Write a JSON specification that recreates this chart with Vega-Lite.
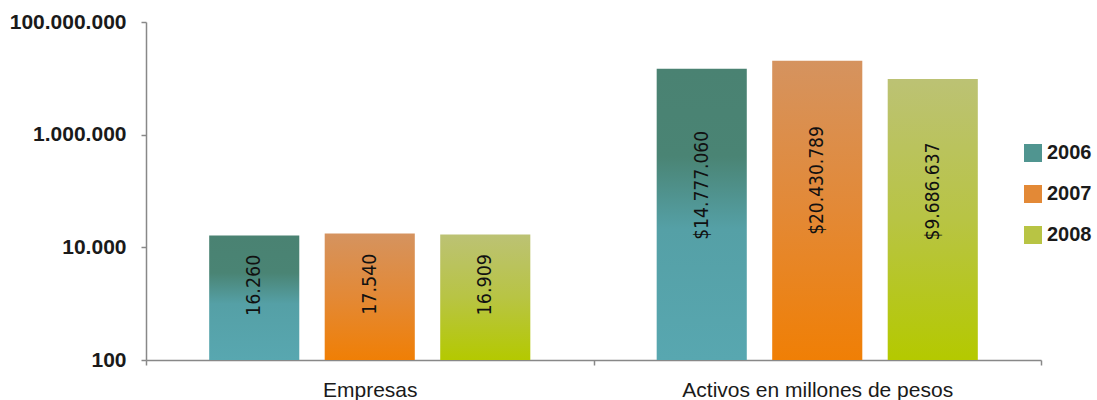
{
  "$schema": "https://vega.github.io/schema/vega-lite/v6.json",
  "width": 895,
  "height": 338,
  "autosize": {"type": "none"},
  "padding": {"left": 146, "top": 22, "right": 56, "bottom": 40},
  "background": "white",
  "config": {
    "view": {"stroke": null},
    "font": "Liberation Sans",
    "locale": {"number": {"decimal": ",", "thousands": ".", "grouping": [3], "currency": ["$", ""]}}
  },
  "data": {
    "values": [
      {"cat": "Empresas", "year": "2006", "value": 16260},
      {"cat": "Empresas", "year": "2007", "value": 17540},
      {"cat": "Empresas", "year": "2008", "value": 16909},
      {"cat": "Activos en millones de pesos", "year": "2006", "value": 14777060},
      {"cat": "Activos en millones de pesos", "year": "2007", "value": 20430789},
      {"cat": "Activos en millones de pesos", "year": "2008", "value": 9686637}
    ]
  },
  "encoding": {
    "x": {
      "field": "cat", "type": "nominal", "sort": null,
      "scale": {"paddingInner": 0, "paddingOuter": 0},
      "axis": {
        "title": null, "labelAngle": 0, "tickBand": "extent", "labelLimit": 500, "labelDx": -6,
        "domainColor": "#888888", "domainWidth": 1.5, "tickColor": "#888888", "tickWidth": 1.5, "tickSize": 5,
        "labelFontSize": 21, "labelColor": "#1a1a1a", "labelPadding": 14, "labelFont": "Liberation Sans"
      }
    },
    "xOffset": {"field": "year", "type": "nominal", "scale": {"domain": ["2006", "2007", "2008"], "paddingInner": 0.22, "paddingOuter": 0.547}},
    "y": {
      "field": "value", "type": "quantitative",
      "scale": {"type": "log", "domain": [100, 100000000], "nice": false},
      "axis": {
        "title": null, "grid": false, "values": [100, 10000, 1000000, 100000000], "format": ",d",
        "domainColor": "#888888", "domainWidth": 1.5, "tickColor": "#888888", "tickWidth": 1.5, "tickSize": 5,
        "labelFontSize": 21, "labelFontWeight": "bold", "labelColor": "#1a1a1a", "labelPadding": 15
      }
    }
  },
  "layer": [
    {
      "transform": [{"filter": "datum.value < 0"}],
      "mark": {"type": "bar"},
      "encoding": {
        "color": {
          "field": "year", "type": "nominal",
          "scale": {"domain": ["2006", "2007", "2008"], "range": ["#509590", "#e38936", "#b8c444"]},
          "legend": {
            "title": null, "orient": "none", "legendX": 877, "legendY": 121,
            "symbolType": "square", "symbolSize": 324, "symbolStrokeWidth": 0, "symbolOpacity": 1,
            "labelFontSize": 20, "labelFontWeight": "bold", "labelColor": "#1a1a1a", "labelOffset": 4,
            "rowPadding": 21
          }
        }
      }
    },
    {
      "transform": [{"filter": "datum.year == '2006'"}],
      "mark": {"type": "bar", "fill": {"gradient": "linear", "x1": 0, "y1": 0, "x2": 0, "y2": 1, "stops": [
        {"offset": 0, "color": "#4a8272"}, {"offset": 0.3, "color": "#4a8474"},
        {"offset": 0.55, "color": "#55a0a6"}, {"offset": 1, "color": "#58a7b0"}]}},
      "encoding": {"y2": {"datum": 100}}
    },
    {
      "transform": [{"filter": "datum.year == '2007'"}],
      "mark": {"type": "bar", "fill": {"gradient": "linear", "x1": 0, "y1": 0, "x2": 0, "y2": 1, "stops": [
        {"offset": 0, "color": "#d5935f"}, {"offset": 0.5, "color": "#e38936"}, {"offset": 1, "color": "#f07f05"}]}},
      "encoding": {"y2": {"datum": 100}}
    },
    {
      "transform": [{"filter": "datum.year == '2008'"}],
      "mark": {"type": "bar", "fill": {"gradient": "linear", "x1": 0, "y1": 0, "x2": 0, "y2": 1, "stops": [
        {"offset": 0, "color": "#bcc274"}, {"offset": 0.5, "color": "#b8c444"}, {"offset": 1, "color": "#b4c900"}]}},
      "encoding": {"y2": {"datum": 100}}
    },
    {
      "transform": [
        {"filter": "datum.cat == 'Empresas'"},
        {"calculate": "100 * pow(datum.value / 100, 0.6)", "as": "labelPos"}
      ],
      "mark": {"type": "text", "angle": 270, "align": "center", "baseline": "middle", "fontSize": 19.5, "font": "DejaVu Sans Condensed", "color": "#111111"},
      "encoding": {
        "y": {"field": "labelPos", "type": "quantitative"},
        "text": {"field": "value", "type": "quantitative", "format": ",d"}
      }
    },
    {
      "transform": [
        {"filter": "datum.cat != 'Empresas'"},
        {"calculate": "100 * pow(datum.value / 100, 0.6)", "as": "labelPos"}
      ],
      "mark": {"type": "text", "angle": 270, "align": "center", "baseline": "middle", "fontSize": 19, "font": "DejaVu Sans Condensed", "color": "#111111"},
      "encoding": {
        "y": {"field": "labelPos", "type": "quantitative"},
        "text": {"field": "value", "type": "quantitative", "format": "$,d"}
      }
    }
  ]
}
